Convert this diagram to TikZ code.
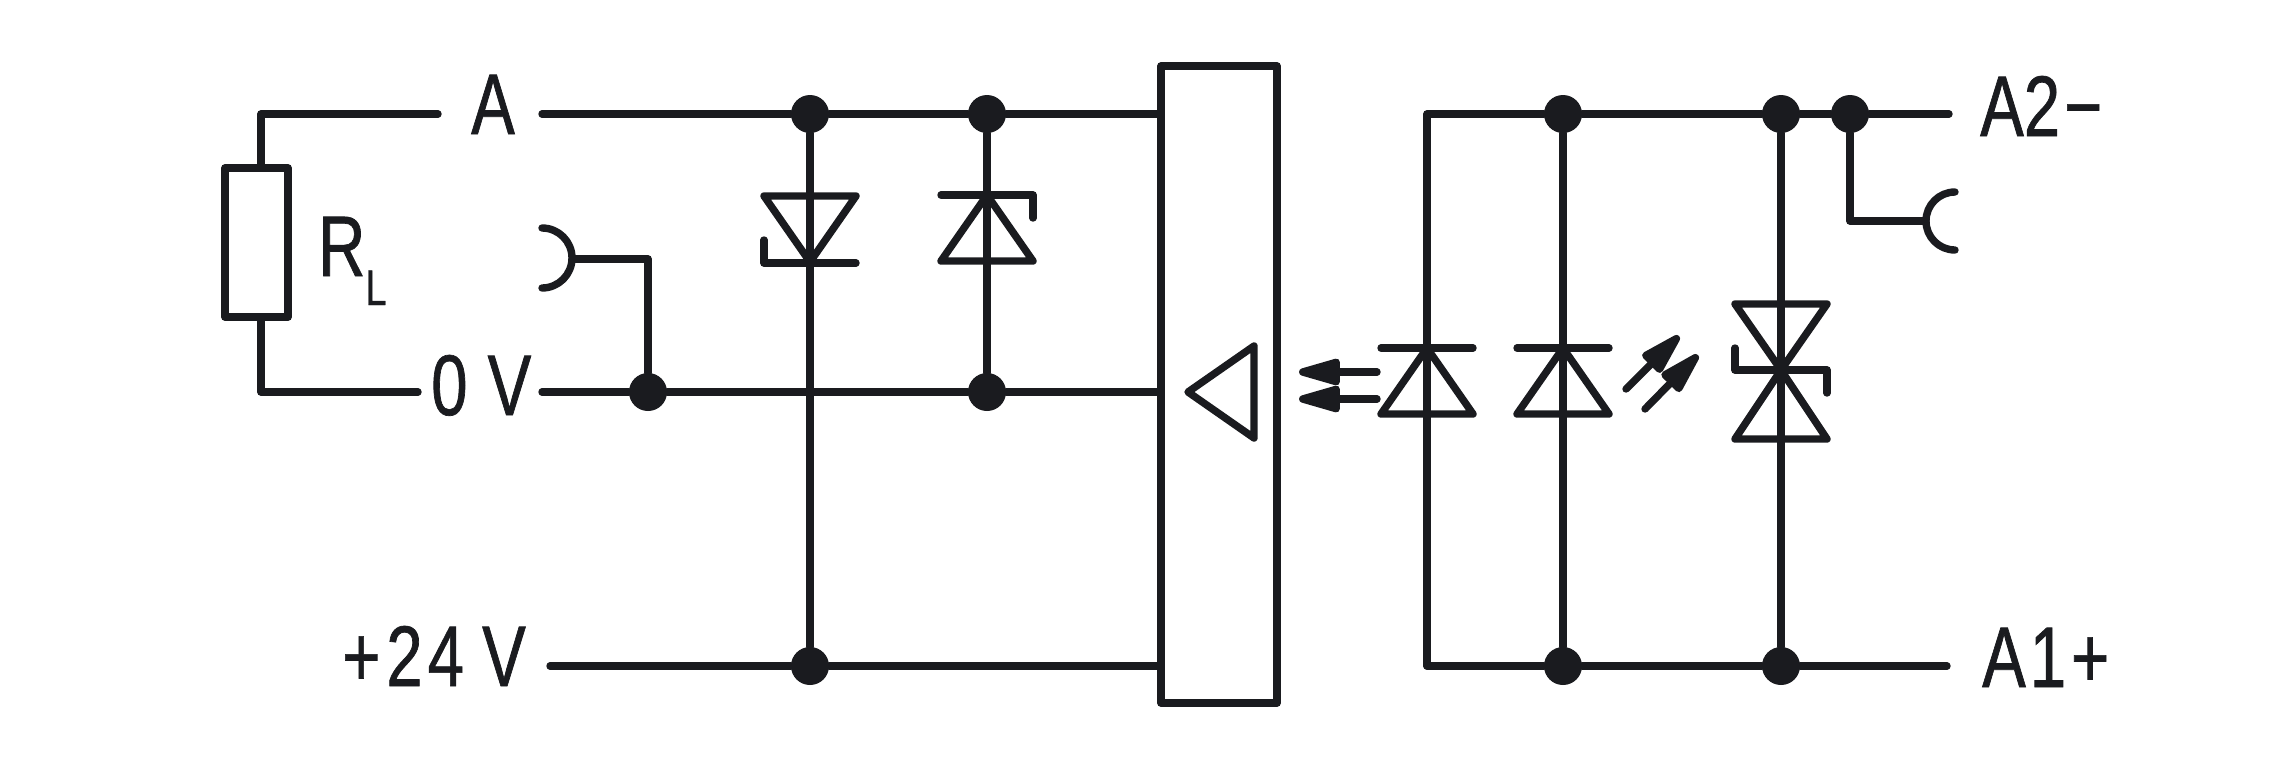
\documentclass[tikz,border=0pt]{standalone}
\usepackage{fontspec}
\setmainfont[FakeStretch=0.76,FakeBold=0.8]{Liberation Sans}
\usetikzlibrary{arrows.meta, positioning, calc}
\definecolor{ink}{HTML}{1A1B1F}

\begin{document}
\begin{tikzpicture}[x=1pt, y=-1pt,
        wire/.style={draw=ink, line width=7.4pt, line cap=round, line join=round},
        dot/.style={circle, fill=ink, inner sep=0pt, minimum size=38pt},
        block/.style={rectangle, draw=ink, line width=7.4pt, line join=round, inner sep=0pt, outer sep=0pt},
        lbl/.style={anchor=base west, inner sep=0pt, text=ink, font=\fontsize{86}{86}\selectfont},
        emit/.style={wire, -{Triangle[length=52pt, width=27pt, round]}},
        zdown/.pic={\draw[wire] (-46,0) -- (46,0) -- (0,66) -- cycle;
            \draw[wire] (46,67) -- (-46,67) -- (-46,44);},
        zup/.pic={\draw[wire] (46,23) -- (46,0) -- (-46,0);
            \draw[wire] (0,0) -- (46,66) -- (-46,66) -- cycle;},
        ledup/.pic={\draw[wire] (-46,0) -- (46,0);
            \draw[wire] (0,0) -- (46,66) -- (-46,66) -- cycle;},
        tvs/.pic={\draw[wire] (-46,-66) -- (46,-66) -- (0,0) -- cycle;
            \draw[wire] (0,0) -- (46,69) -- (-46,69) -- cycle;
            \draw[wire] (-46,-22) -- (-46,0) -- (46,0) -- (46,23);}]
    \useasboundingbox (0,0) rectangle (2278,772);

    % left side
    \node[block, minimum width=63pt, minimum height=149pt] (rload) at (256.5,242.5) {};
    \node[block, minimum width=116pt, minimum height=637pt] (box) at (1219,384.5) {};
    \node[dot] (a1) at (810,114) {};
    \node[dot] (a2) at (987,114) {};
    \node[dot] (z1) at (648,392) {};
    \node[dot] (z2) at (987,392) {};
    \node[dot] (p1) at (810,666) {};

    \coordinate (aleft) at (261,114);
    \coordinate (aend) at (438,114);
    \coordinate (zleft) at (261,392);
    \coordinate (zend) at (418,392);
    \coordinate (astart) at (542,114);
    \coordinate (zstart) at (542,392);
    \coordinate (pstart) at (550,666);
    \coordinate (sockl) at (572,259);

    \draw[wire] (aend) -- (aleft) -- (aleft |- rload.north);
    \draw[wire] (rload.south -| zleft) -- (zleft) -- (zend);
    \draw[wire] (astart) -- (a1) -- (a2) -- (a2 -| box.west);
    \draw[wire] (zstart) -- (z1) -- (z2) -- (z2 -| box.west);
    \draw[wire] (pstart) -- (p1) -- (p1 -| box.west);
    \draw[wire] (a1) -- (p1);
    \draw[wire] (a2) -- (z2);
    \draw[wire] (sockl) -| (z1);
    \draw[wire] (542,228) arc[start angle=-90, end angle=90, radius=30];

    \pic at (810,196) {zdown};
    \pic at (987,195) {zup};
    \draw[wire] (1254,346) -- (1188,392) -- (1254,438) -- cycle;

    \node[lbl] (la) at (471,134) {A};
    \node[lbl] (lz) at (431,415) {0\kern2pt{} V};
    \node[lbl] (lp) at (342,686) {+\kern6pt 2\kern5pt 4 V};
    \node[lbl] (lr) at (318,276) {R{\fontsize{50}{50}\selectfont\raisebox{-29pt}{L}}};

    % right side
    \node[dot] (e1) at (1563,114) {};
    \node[dot] (e2) at (1781,114) {};
    \node[dot] (e3) at (1850,114) {};
    \node[dot] (f1) at (1563,666) {};
    \node[dot] (f2) at (1781,666) {};

    \coordinate (railtop) at (1427,114);
    \coordinate (railbot) at (1427,666);
    \coordinate (etop) at (1949,114);
    \coordinate (ebot) at (1947,666);
    \coordinate (sockr) at (1925,221);

    \draw[wire] (railbot) -- (railtop) -- (e1) -- (e2) -- (e3) -- (etop);
    \draw[wire] (railbot) -- (f1) -- (f2) -- (ebot);
    \draw[wire] (e1) -- (f1);
    \draw[wire] (e2) -- (f2);
    \draw[wire] (e3) |- (sockr);
    \draw[wire] (1955,192) arc[start angle=-90, end angle=-270, radius=29];

    \pic at (1427,348) {ledup};
    \pic at (1563,348) {ledup};
    \pic at (1781,370) {tvs};

    \coordinate (ta) at (1377,372);
    \coordinate (tb) at (1377,399);
    \coordinate (tc) at (1626,389);
    \coordinate (td) at (1645,409);
    \draw[emit] (ta) -- (1299,372);
    \draw[emit] (tb) -- (1299,399);
    \draw[emit] (tc) -- (1679,336);
    \draw[emit] (td) -- (1698,355);

    \node[lbl] (lm) at (1980,136) {A2\kern4pt −};
    \node[lbl] (lq) at (1982,687) {A\kern4pt 1\kern5pt +};
\end{tikzpicture}
\end{document}
